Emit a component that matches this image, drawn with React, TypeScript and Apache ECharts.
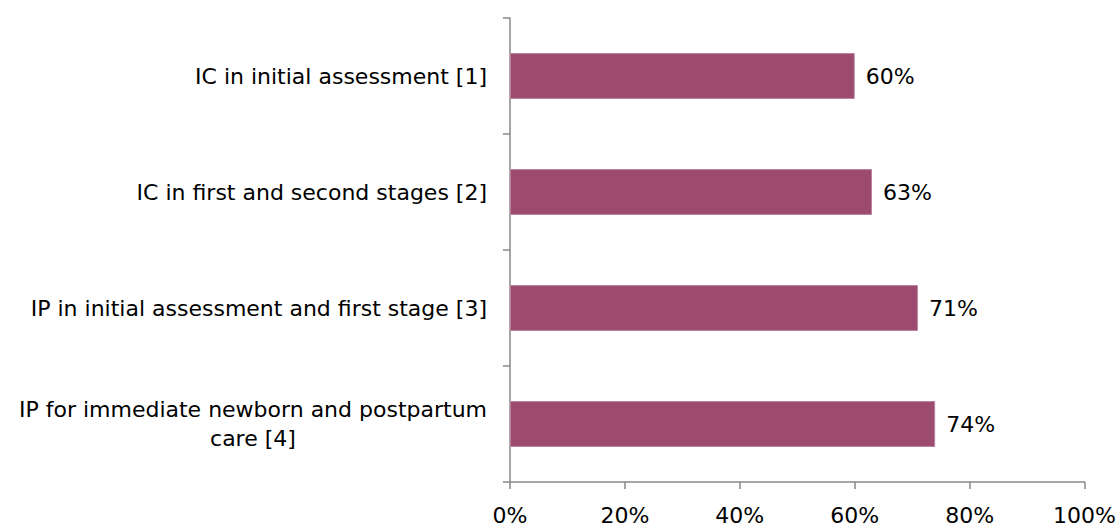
import React, { useEffect, useRef } from "react";
import * as echarts from "echarts";

const categories = [
  "IC in initial assessment [1]",
  "IC in first and second stages [2]",
  "IP in initial assessment and first stage [3]",
  "IP for immediate newborn and postpartum\ncare [4]",
];
const values = [60, 63, 71, 74];
const xTicks = { min: 0, max: 100, interval: 20 };

const FONT = "DejaVu Sans";

export default function App() {
  const ref = useRef<HTMLDivElement>(null);
  useEffect(() => {
    document.body.style.margin = "0";
    const chart = echarts.init(ref.current!, null, { renderer: "svg" });
    chart.setOption({
      animation: false,
      backgroundColor: "#ffffff",
      grid: { left: 510, right: 32, top: 18, bottom: 42 },
      xAxis: {
        type: "value",
        min: xTicks.min,
        max: xTicks.max,
        interval: xTicks.interval,
        splitLine: { show: false },
        axisLine: { show: true, lineStyle: { color: "#898989", width: 1.5 } },
        axisTick: { show: true, length: 7, lineStyle: { color: "#898989", width: 1.5 } },
        axisLabel: {
          formatter: "{value}%",
          color: "#000",
          fontFamily: FONT,
          fontSize: 22,
          margin: 22,
        },
      },
      yAxis: {
        type: "category",
        inverse: true,
        data: categories,
        axisLine: { show: true, lineStyle: { color: "#898989", width: 1.5 } },
        axisTick: { show: true, length: 7, lineStyle: { color: "#898989", width: 1.5 } },
        axisLabel: {
          color: "#000",
          fontFamily: FONT,
          fontSize: 22,
          margin: 23,
          lineHeight: 29,
          formatter: (v: string) =>
            v
              .split("\n")
              .map((l) => "{c|" + l + "}")
              .join("\n"),
          rich: {
            c: {
              align: "center",
              color: "#000",
              fontFamily: FONT,
              fontSize: 22,
              lineHeight: 29,
            },
          },
        },
      },
      series: [
        {
          type: "bar",
          data: values,
          barWidth: 46,
          itemStyle: { color: "#9C4A6E", borderColor: "#b9849c", borderWidth: 1 },
          label: {
            show: true,
            position: "right",
            distance: 11,
            formatter: "{c}%",
            color: "#000",
            fontFamily: FONT,
            fontSize: 22,
          },
        },
      ],
    });
    return () => chart.dispose();
  }, []);
  return <div ref={ref} style={{ width: 1119, height: 526 }} />;
}
